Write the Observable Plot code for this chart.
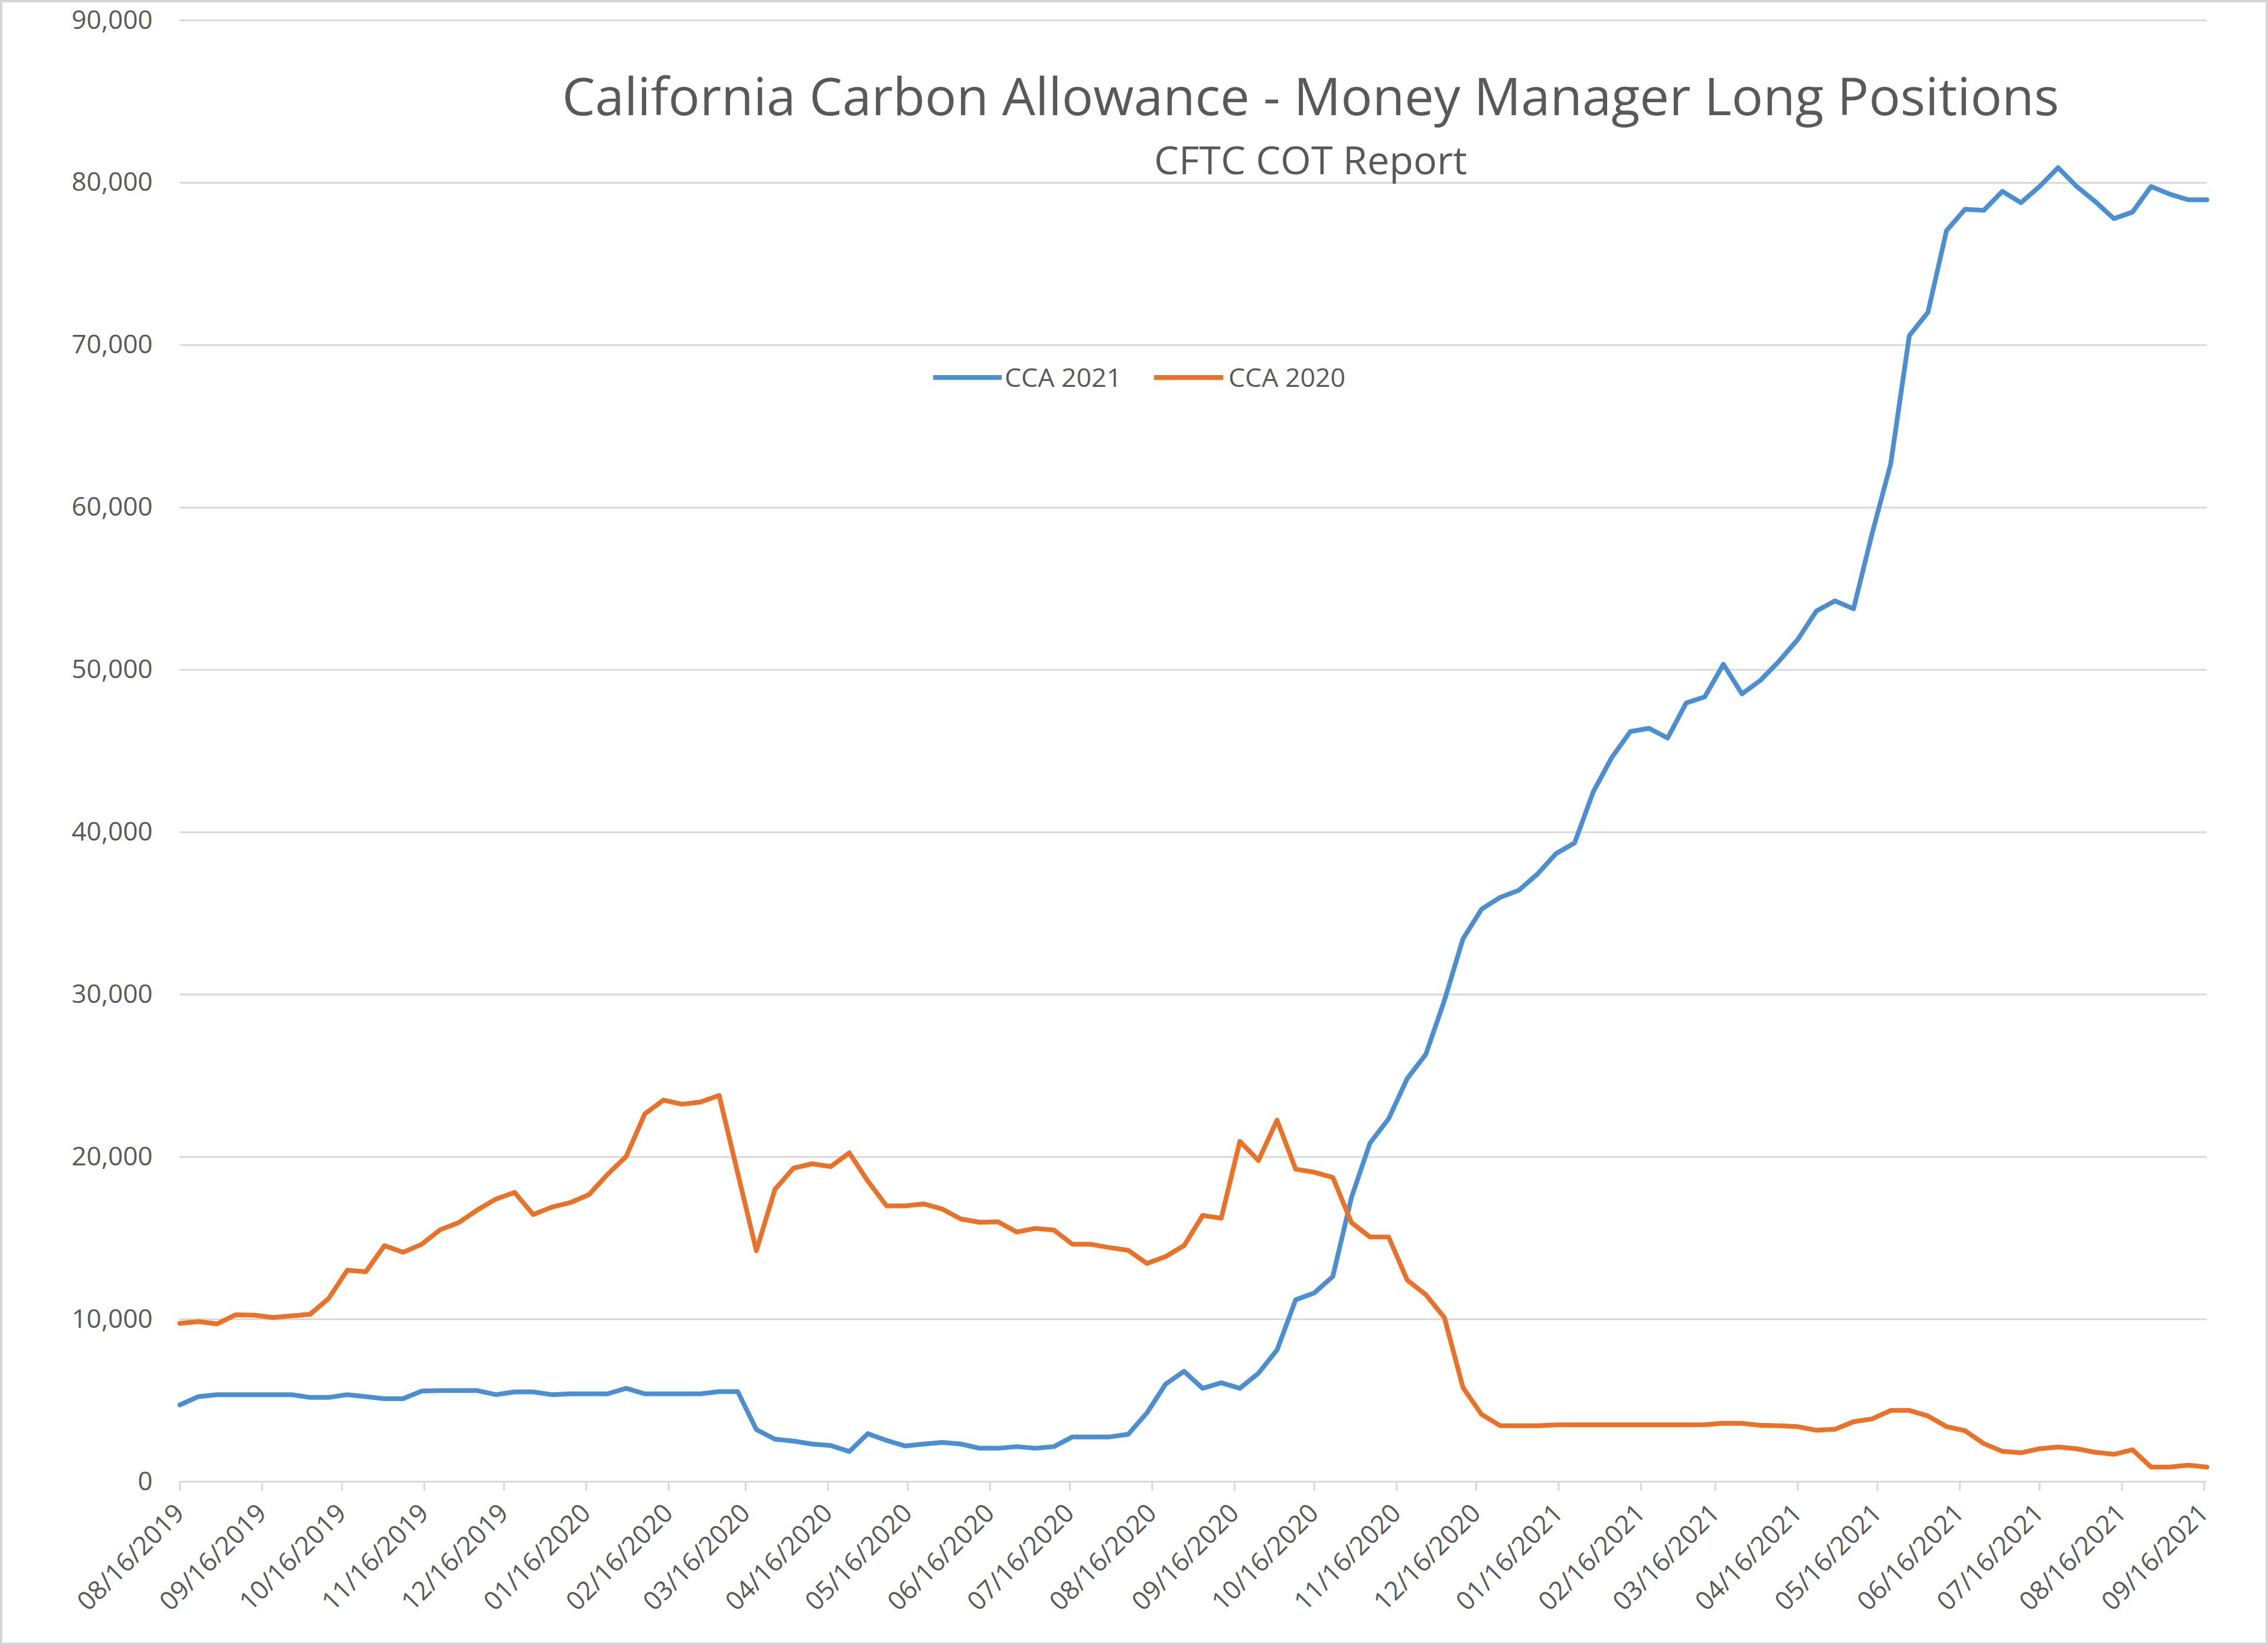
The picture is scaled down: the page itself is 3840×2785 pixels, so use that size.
<!DOCTYPE html>
<html>
<head>
<meta charset="utf-8">
<script src="https://cdn.jsdelivr.net/npm/d3@7"></script>
<script src="https://cdn.jsdelivr.net/npm/@observablehq/plot@0.6"></script>
<style>
  html, body { margin: 0; padding: 0; background: #ffffff; }
  #wrap { position: relative; width: 3840px; height: 2785px; overflow: hidden; background: #fff; }
  #wrap > svg { position: absolute; left: 0; top: 0; }
  #frame { position: absolute; left: 0; top: 0; width: 3840px; height: 2785px; box-sizing: border-box; border: 4px solid #d6d6d6; pointer-events: none; }
</style>
</head>
<body>
<div id="wrap"><div id="frame"></div></div>
<script>
// ---------------- data ----------------
const chartTitle = "California Carbon Allowance - Money Manager Long Positions";
const chartSubtitle = "CFTC COT Report";
const seriesNames = ["CCA 2021", "CCA 2020"];
const seriesColors = ["#4a8fd1", "#ea7125"];
const firstReportDate = "2019-08-16"; // weekly report dates
const tickLabels = [
  "08/16/2019","09/16/2019","10/16/2019","11/16/2019","12/16/2019",
  "01/16/2020","02/16/2020","03/16/2020","04/16/2020","05/16/2020","06/16/2020",
  "07/16/2020","08/16/2020","09/16/2020","10/16/2020","11/16/2020","12/16/2020",
  "01/16/2021","02/16/2021","03/16/2021","04/16/2021","05/16/2021","06/16/2021",
  "07/16/2021","08/16/2021","09/16/2021"
];
const yTickValues = [0, 10000, 20000, 30000, 40000, 50000, 60000, 70000, 80000, 90000];

const cca2021 = [
  4730, 5240, 5360, 5360, 5360, 5360, 5360, 5190, 5190, 5360,
  5240, 5110, 5110, 5580, 5610, 5610, 5610, 5360, 5530, 5530,
  5360, 5410, 5410, 5410, 5750, 5410, 5410, 5410, 5410, 5550,
  5550, 3210, 2620, 2500, 2320, 2230, 1860, 2960, 2540, 2200,
  2320, 2420, 2320, 2060, 2060, 2160, 2060, 2160, 2760, 2760,
  2760, 2920, 4230, 6000, 6800, 5750, 6090, 5750, 6680, 8110,
  11200, 11620, 12640, 17500, 20860, 22350, 24830, 26320, 29640, 33440,
  35260, 35990, 36420, 37420, 38680, 39340, 42480, 44600, 46200, 46400,
  45800, 47960, 48340, 50340, 48520, 49360, 50540, 51870, 53620, 54250,
  53760, 58400, 62700, 70580, 72020, 77050, 78370, 78300, 79470, 78770,
  79770, 80930, 79770, 78840, 77790, 78190, 79770, 79300, 78950, 78950
];
const cca2020 = [
  9750, 9860, 9720, 10280, 10260, 10110, 10210, 10310, 11280, 13020,
  12930, 14540, 14130, 14620, 15520, 15960, 16740, 17410, 17820, 16450,
  16910, 17190, 17680, 18930, 20030, 22650, 23500, 23250, 23380, 23790,
  19000, 14230, 18000, 19310, 19580, 19410, 20250, 18510, 16990, 16990,
  17110, 16790, 16180, 15980, 16010, 15380, 15600, 15500, 14620, 14620,
  14420, 14250, 13440, 13860, 14540, 16400, 16230, 20960, 19780, 22270,
  19250, 19060, 18740, 15960, 15070, 15070, 12420, 11520, 10100, 5790,
  4140, 3450, 3450, 3450, 3500, 3500, 3500, 3500, 3500, 3500,
  3500, 3500, 3510, 3600, 3590, 3470, 3450, 3390, 3170, 3230,
  3690, 3870, 4390, 4390, 4050, 3390, 3140, 2350, 1870, 1780,
  2030, 2140, 2030, 1810, 1690, 1970, 900, 900, 1020, 900
];

// ---------------- build table ----------------
const start = new Date(firstReportDate + "T00:00:00Z");
const dates = cca2021.map((_, i) => d3.utcDay.offset(start, 7 * i));
const table = [];
[cca2021, cca2020].forEach((vals, s) => {
  vals.forEach((v, i) => table.push({date: dates[i], value: v, series: seriesNames[s]}));
});
const parseTick = d3.utcParse("%m/%d/%Y");
const tickDates = tickLabels.map(parseTick);

const FONT = "'Open Sans', 'DejaVu Sans', sans-serif";
const TEXT = "#595959";
const GRID = "#d9d9d9";

const chart = Plot.plot({
  width: 3840,
  height: 2785,
  marginLeft: 304,
  marginRight: 104,
  marginTop: 34,
  marginBottom: 277,
  style: {fontFamily: FONT, color: TEXT, background: "transparent", overflow: "visible"},
  x: {type: "utc", domain: [dates[0], dates[dates.length - 1]]},
  y: {domain: [0, 90000]},
  color: {domain: seriesNames, range: seriesColors},
  marks: [
    Plot.gridY(yTickValues, {stroke: GRID, strokeOpacity: 1, strokeWidth: 3}),
    Plot.axisY(yTickValues, {
      tickSize: 0, tickPadding: 46, fontSize: 44, label: null,
      tickFormat: d3.format(","), fill: TEXT
    }),
    Plot.axisX(tickDates, {
      tickSize: 16, tickPadding: 30, tickRotate: -45, fontSize: 44, label: null,
      tickFormat: d3.utcFormat("%m/%d/%Y"), stroke: GRID, strokeWidth: 3, fill: TEXT
    }),
    Plot.line(table, {
      x: "date", y: "value", z: "series", stroke: "series",
      strokeWidth: 8, strokeLinejoin: "round", strokeLinecap: "round"
    })
  ]
});
document.getElementById("wrap").insertBefore(chart, document.getElementById("frame"));

// ---------------- title, subtitle, legend overlay ----------------
const over = d3.select("#wrap").append("svg")
  .attr("width", 3840).attr("height", 2785)
  .style("position", "absolute").style("left", 0).style("top", 0)
  .style("font-family", FONT);

function fit(sel, target) {
  const w = sel.node().getComputedTextLength();
  const fs = parseFloat(sel.attr("font-size"));
  sel.attr("font-size", fs * target / w);
}
const t = over.append("text").attr("x", 2219).attr("y", 195)
  .attr("text-anchor", "middle").attr("font-size", 90).attr("fill", TEXT).text(chartTitle);
fit(t, 2535);
const st = over.append("text").attr("x", 2219).attr("y", 295)
  .attr("text-anchor", "middle").attr("font-size", 66).attr("fill", TEXT).text(chartSubtitle);
fit(st, 530);

const legendItems = [
  {name: seriesNames[0], color: seriesColors[0], x0: 1580, x1: 1696, tx: 1701},
  {name: seriesNames[1], color: seriesColors[1], x0: 1954, x1: 2071, tx: 2080}
];
const lg = over.append("g");
legendItems.forEach(it => {
  lg.append("line").attr("x1", it.x0).attr("x2", it.x1).attr("y1", 639).attr("y2", 639)
    .attr("stroke", it.color).attr("stroke-width", 8);
  const tx = lg.append("text").attr("x", it.tx).attr("y", 655).attr("font-size", 44)
    .attr("fill", TEXT).text(it.name);
  fit(tx, 198);
});
</script>
</body>
</html>
